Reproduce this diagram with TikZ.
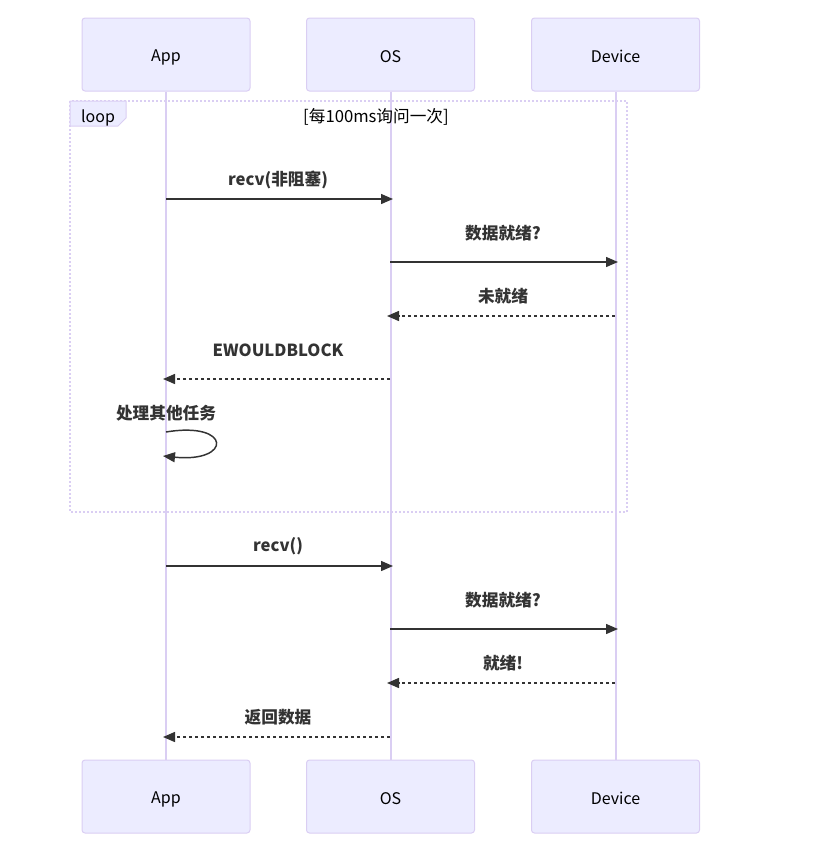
\documentclass[tikz,border=0pt]{standalone}
\usepackage{fontspec}
\setmainfont{Noto Sans CJK SC}
\usetikzlibrary{arrows.meta}
\definecolor{actfill}{HTML}{ECECFF}
\definecolor{actline}{HTML}{DACEF3}
\definecolor{msg}{HTML}{333333}
\tikzset{
  actor/.style={draw=actline, fill=actfill, line width=0.75pt, rounded corners=2.25pt,
    minimum width=126pt, minimum height=54.75pt, inner sep=0pt, font=\fontsize{12}{14}\selectfont, text=black},
  actlbl/.style={font=\fontsize{12}{14}\selectfont, text=black, inner sep=0pt},
  life/.style={draw=actline, line width=1.5pt},
  msgline/.style={draw=msg, line width=1.1pt, -{Triangle[length=9pt,width=7.5pt]}},
  reply/.style={msgline, dash pattern=on 2.25pt off 2.25pt},
  msglabel/.style={font=\fontsize{12.5}{14}\selectfont\bfseries, text=msg, inner sep=0pt},
  loopbox/.style={draw=actline, line width=1.5pt, dash pattern=on 1.5pt off 1.5pt},
}
\begin{document}
\begin{tikzpicture}[x=0.75pt,y=-0.75pt]
\useasboundingbox (0,0) rectangle (814,851);
% actors
\node[actor] (appT) at (166,54.5) {};
\node[actor] (osT) at (390.5,54.5) {};
\node[actor] (devT) at (615.5,54.5) {};
\node[actor] (appB) at (166,796.5) {};
\node[actor] (osB) at (390.5,796.5) {};
\node[actor] (devB) at (615.5,796.5) {};
\node[actlbl] (appTl) at ([yshift=-2.5pt]appT.center) {App};
\node[actlbl] (osTl) at ([yshift=-1.5pt]osT.center) {OS};
\node[actlbl] (devTl) at ([yshift=-1.5pt]devT.center) {Device};
\node[actlbl] (appBl) at ([yshift=-2.5pt]appB.center) {App};
\node[actlbl] (osBl) at ([yshift=-1.5pt]osB.center) {OS};
\node[actlbl] (devBl) at ([yshift=-1.5pt]devB.center) {Device};
% lifelines
\draw[life] (appT.south) -- (appB.north);
\draw[life] (osT.south) -- (osB.north);
\draw[life] (devT.south) -- (devB.north);
% loop box
\draw[loopbox] (70,101) rectangle (627,512);
\draw[draw=actline, fill=actfill, line width=0.75pt] (70,101) -- (126,101) -- (126,118) -- (118,126) -- (70,126) -- cycle;
\node[actlbl] (looplbl) at (98,117.5) {loop};
\node[actlbl, font=\fontsize{12.5}{14}\selectfont] (loopcond) at (376,117) {[每100ms询问一次]};
% message endpoints
\coordinate (a1) at (166,199); \coordinate (o1) at (393,199);
\coordinate (o2) at (390,262); \coordinate (d2) at (618,262);
\coordinate (d3) at (615,316); \coordinate (o3) at (387,316);
\coordinate (o4) at (390,379); \coordinate (a4) at (163,379);
\coordinate (a5s) at (166,432); \coordinate (a5e) at (163,456);
\coordinate (a6) at (166,566); \coordinate (o6) at (393,566);
\coordinate (o7) at (390,629); \coordinate (d7) at (618,629);
\coordinate (d8) at (615,683); \coordinate (o8) at (387,683);
\coordinate (o9) at (390,737); \coordinate (a9) at (163,737);
% messages
\draw[msgline] (a1) -- (o1);
\node[msglabel] (l1) at (278,180) {recv(非阻塞)};
\draw[msgline] (o2) -- (d2);
\node[msglabel] (l2) at (503,233) {数据就绪?};
\draw[reply] (d3) -- (o3);
\node[msglabel] (l3) at (503,296) {未就绪};
\draw[reply] (o4) -- (a4);
\node[msglabel] (l4) at (278,350) {EWOULDBLOCK};
\draw[msgline] (a5s) .. controls (232,421) and (232,463) .. (a5e);
\node[msglabel] (l5) at (166,413) {处理其他任务};
\draw[msgline] (a6) -- (o6);
\node[msglabel] (l6) at (278,546) {recv()};
\draw[msgline] (o7) -- (d7);
\node[msglabel] (l7) at (503,600) {数据就绪?};
\draw[reply] (d8) -- (o8);
\node[msglabel] (l8) at (503,663) {就绪!};
\draw[reply] (o9) -- (a9);
\node[msglabel] (l9) at (278,717) {返回数据};
\end{tikzpicture}
\end{document}
